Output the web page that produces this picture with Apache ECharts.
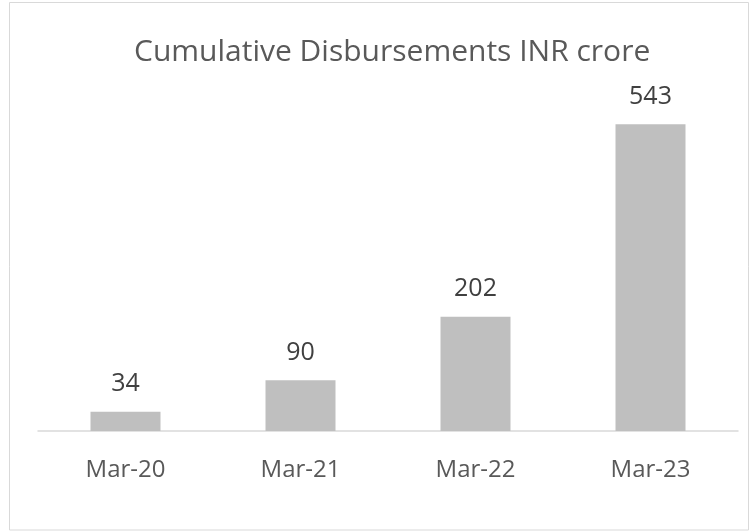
<!DOCTYPE html>
<html>
<head>
<meta charset="utf-8">
<script src="https://cdn.jsdelivr.net/npm/echarts@6/dist/echarts.min.js"></script>
<style>html,body{margin:0;padding:0;background:#fff;}#c{width:753px;height:532px;}</style>
</head>
<body>
<div id="c"></div>
<script>
const categories = ['Mar-20', 'Mar-21', 'Mar-22', 'Mar-23'];
const values = [34, 90, 202, 543];
const titleText = 'Cumulative Disbursements INR crore';

const chart = echarts.init(document.getElementById('c'), null, {renderer: 'canvas'});
const font = '"Open Sans", "Noto Sans", sans-serif';
chart.setOption({
  animation: false,
  backgroundColor: '#fff',
  graphic: [{
    type: 'rect', shape: {x: 9.5, y: 2.5, width: 739, height: 527.5},
    style: {fill: 'none', stroke: '#d9d9d9', lineWidth: 1}, silent: true
  }],
  title: {
    text: titleText, left: 129, top: 32,
    textStyle: {fontFamily: font, fontSize: 30, fontWeight: 'normal', color: '#595959'}
  },
  grid: {left: 38, right: 15, top: 92, bottom: 101, containLabel: false},
  xAxis: {
    type: 'category', data: categories,
    axisLine: {lineStyle: {color: '#d9d9d9', width: 1.5}},
    axisTick: {show: false},
    axisLabel: {fontFamily: font, fontSize: 24, color: '#595959', margin: 27}
  },
  yAxis: {type: 'value', min: 0, max: 600, show: false, splitLine: {show: false}},
  series: [{
    type: 'bar', data: values, barWidth: '40%',
    itemStyle: {color: '#bfbfbf'},
    label: {show: true, position: 'top', distance: 15, fontFamily: font, fontSize: 25, color: '#404040'}
  }]
});
</script>
</body>
</html>
